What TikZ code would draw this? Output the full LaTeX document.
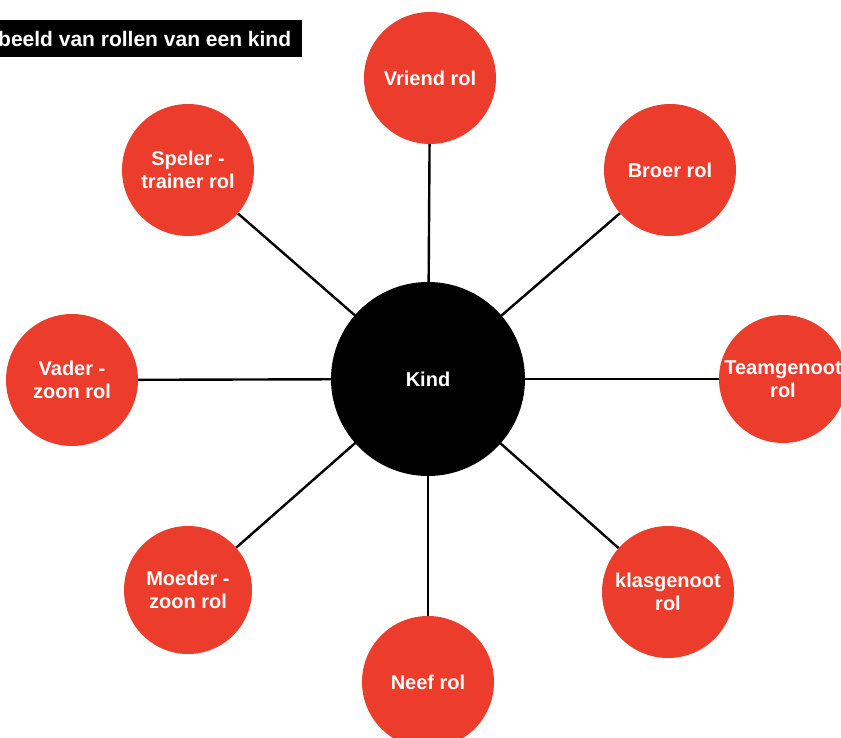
\documentclass[tikz,border=0pt]{standalone}
\usepackage{fontspec}
\setmainfont{Liberation Sans}
\usepackage{tikz}
\definecolor{RoleRed}{RGB}{236,60,44}
\usetikzlibrary{positioning}

\begin{document}
\begin{tikzpicture}[
		x=1pt, y=-1pt,
		every node/.style={font=\fontsize{20}{23}\selectfont\bfseries},
		centre/.style={circle, fill=black, text=white, minimum size=194pt, inner sep=0pt},
		role/.style={circle, fill=RoleRed, text=white, align=center, minimum size=132pt, inner sep=0pt},
		spoke/.style={draw=black, line width=2.4pt}
	]
	\useasboundingbox[fill=white] (0,0) rectangle (841,738);

	% title bar
	\fill[black] (0,20) rectangle (302,57);
	\node[anchor=west, text=white, inner sep=0pt, font=\fontsize{21}{24}\selectfont\bfseries] (title) at (-2,39) {beeld van rollen van een kind};

	% the child in the middle
	\coordinate (mid) at (428,379);

	\node[role] (vriend) at (430,78) {Vriend rol};
	\node[role] (broer) at (670,170) {Broer rol};
	\node[role, minimum size=128pt] (team) at (783,379) {Teamgenoot\\rol};
	\node[role] (klas) at (668,592) {klasgenoot\\rol};
	\node[role] (neef) at (428,682) {Neef rol};
	\node[role, minimum size=128pt] (moeder) at (188,590) {Moeder -\\zoon rol};
	\node[role] (vader) at (72,380) {Vader -\\zoon rol};
	\node[role] (speler) at (188,170) {Speler -\\trainer rol};

	\foreach \r in {vriend,broer,team,klas,neef,moeder,vader,speler}
		\path[spoke] (mid) -- (\r);

	\node[centre] (kind) at (mid) {Kind};

\end{tikzpicture}
\end{document}
